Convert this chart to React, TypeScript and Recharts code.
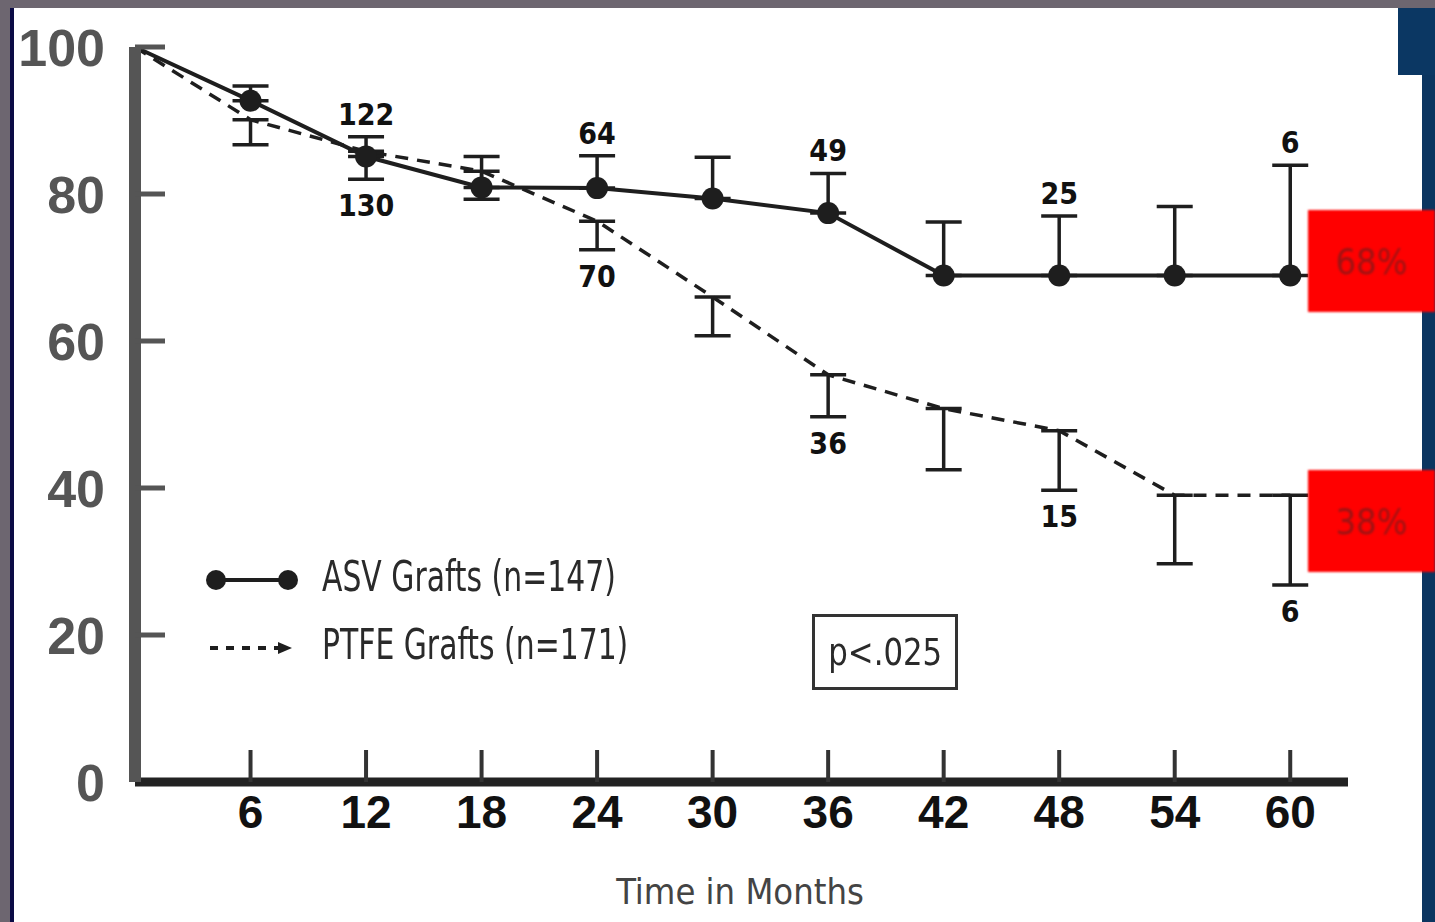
import React from "react";
import {
  ComposedChart,
  Line,
  XAxis,
  YAxis,
  ErrorBar,
  LabelList,
} from "recharts";

const months = [0, 6, 12, 18, 24, 30, 36, 42, 48, 54, 60];
const asvPatency = [100, 92.7, 85.1, 80.9, 80.8, 79.4, 77.4, 68.9, 68.9, 68.9, 68.9];
const asvUpper = [null, 94.7, 87.8, 85.1, 85.2, 85.0, 82.8, 76.2, 77.0, 78.3, 83.9];
const ptfePatency = [100, 90.1, 85.8, 83.1, 76.3, 66.0, 55.4, 50.8, 47.8, 39.0, 39.0];
const ptfeLower = [null, 86.7, 82.0, 79.3, 72.4, 60.7, 49.7, 42.5, 39.7, 29.7, 26.8];
const asvAtRisk = ["", "", "122", "", "64", "", "49", "", "25", "", "6"];
const ptfeAtRisk = ["", "", "130", "", "70", "", "36", "", "15", "", "6"];
const xTicks = [6, 12, 18, 24, 30, 36, 42, 48, 54, 60];
const yTicks = [0, 20, 40, 60, 80, 100];
const endLabels = ["68%", "38%"];

const data = months.map((m, i) => ({
  month: m,
  asv: asvPatency[i],
  asvErr: asvUpper[i] == null ? null : [0, +(asvUpper[i]! - asvPatency[i]).toFixed(1)],
  asvTop: asvUpper[i],
  asvN: asvAtRisk[i],
  ptfe: ptfePatency[i],
  ptfeErr: ptfeLower[i] == null ? null : [+(ptfePatency[i] - ptfeLower[i]!).toFixed(1), 0],
  ptfeBottom: ptfeLower[i],
  ptfeN: ptfeAtRisk[i],
}));

const INK = "#1e1e1e";
const NARROW = "'DejaVu Sans Condensed', 'DejaVu Sans', sans-serif";

const YTick = ({ x, y, payload }: any) => (
  <g>
    {payload.value !== 0 && (
      <line x1={x} x2={x + 30} y1={y} y2={y} stroke="#555" strokeWidth={5} />
    )}
    <text
      x={x - 30}
      y={y}
      dy="0.36em"
      textAnchor="end"
      fontSize={52}
      fontWeight="bold"
      fill="#555"
      fontFamily="'Liberation Sans', Arial, sans-serif"
    >
      {payload.value}
    </text>
  </g>
);

const XTick = ({ x, y, payload }: any) => (
  <g>
    <line x1={x} x2={x} y1={y - 32} y2={y} stroke="#333" strokeWidth={4} />
    <text
      x={x}
      y={y + 46}
      textAnchor="middle"
      fontSize={46}
      fontWeight="bold"
      fill="#111"
      fontFamily="'Liberation Sans', Arial, sans-serif"
    >
      {payload.value}
    </text>
  </g>
);

const AsvDot = (props: any) => {
  const { cx, cy, index } = props;
  if (index === 0) return <g key={`d${index}`} />;
  return <circle key={`d${index}`} cx={cx} cy={cy} r={11} fill={INK} />;
};

const countLabel = (below: boolean) => (p: any) => {
  if (!p.value) return null;
  return (
    <text
      key={`l${p.index}`}
      x={p.x}
      y={below ? p.y + 37 : p.y - 12}
      textAnchor="middle"
      fontSize={30}
      fontWeight="bold"
      fill="#111"
      fontFamily={NARROW}
    >
      {p.value}
    </text>
  );
};

const abs = (s: React.CSSProperties): React.CSSProperties => ({ position: "absolute", ...s });

const legendText: React.CSSProperties = {
  fontFamily: NARROW,
  fontSize: 42,
  color: "#2a2a2a",
  whiteSpace: "nowrap",
  transform: "scaleX(0.79)",
  transformOrigin: "left center",
};

export default function App() {
  return (
    <div style={abs({ left: 0, top: 0, width: 1435, height: 922, background: "#fff", overflow: "hidden" })}>
      <ComposedChart
        width={1435}
        height={922}
        data={data}
        margin={{ top: 47, right: 87, left: 35, bottom: 80 }}
      >
        <XAxis
          type="number"
          dataKey="month"
          domain={[0, 63]}
          ticks={xTicks}
          tick={<XTick />}
          tickLine={false}
          tickSize={0}
          tickMargin={0}
          height={60}
          axisLine={{ stroke: "#222", strokeWidth: 9 }}
        />
        <YAxis
          type="number"
          domain={[0, 100]}
          ticks={yTicks}
          tick={<YTick />}
          tickLine={false}
          tickSize={0}
          tickMargin={0}
          width={100}
          axisLine={{ stroke: "#555", strokeWidth: 12 }}
        />
        <Line
          dataKey="ptfe"
          stroke={INK}
          strokeWidth={3.5}
          strokeDasharray="13 9"
          dot={false}
          activeDot={false}
          isAnimationActive={false}
        >
          <ErrorBar dataKey="ptfeErr" width={18} strokeWidth={3.5} stroke={INK} direction="y" />
        </Line>
        <Line
          dataKey="asv"
          stroke={INK}
          strokeWidth={4}
          dot={<AsvDot />}
          activeDot={false}
          isAnimationActive={false}
        >
          <ErrorBar dataKey="asvErr" width={18} strokeWidth={3.5} stroke={INK} direction="y" />
        </Line>
        <Line
          dataKey="asvTop"
          stroke="none"
          dot={false}
          activeDot={false}
          isAnimationActive={false}
        >
          <LabelList dataKey="asvN" content={countLabel(false)} />
        </Line>
        <Line
          dataKey="ptfeBottom"
          stroke="none"
          dot={false}
          activeDot={false}
          isAnimationActive={false}
        >
          <LabelList dataKey="ptfeN" content={countLabel(true)} />
        </Line>
      </ComposedChart>

      {/* legend */}
      <svg style={abs({ left: 200, top: 555, width: 110, height: 120 })}>
        <line x1={16} x2={88} y1={25} y2={25} stroke={INK} strokeWidth={4} />
        <circle cx={16} cy={25} r={10} fill={INK} />
        <circle cx={88} cy={25} r={10} fill={INK} />
        <line x1={10} x2={82} y1={93} y2={93} stroke={INK} strokeWidth={4} strokeDasharray="8 8" />
        <polygon points="78,87 92,93 78,99" fill={INK} />
      </svg>
      <div style={abs({ left: 322, top: 552, ...legendText })}>ASV Grafts (n=147)</div>
      <div style={abs({ left: 322, top: 620, ...legendText })}>PTFE Grafts (n=171)</div>

      {/* p value box */}
      <div
        style={abs({
          left: 812,
          top: 614,
          width: 146,
          height: 76,
          boxSizing: "border-box",
          border: "3px solid #333",
          fontFamily: NARROW,
          fontSize: 38,
          color: "#2a2a2a",
          display: "flex",
          alignItems: "center",
          justifyContent: "center",
        })}
      >
        <span style={{ display: "inline-block", transform: "scaleX(0.9)" }}>p&lt;.025</span>
      </div>

      <div style={abs({ left: 540, width: 400, top: 871, textAlign: "center", fontFamily: NARROW, fontSize: 36, color: "#444" })}>
        Time in Months
      </div>

      {/* frame */}
      <div style={abs({ left: 0, top: 0, width: 1435, height: 8, background: "#6d6670" })} />
      <div style={abs({ left: 0, top: 0, width: 10, height: 922, background: "#6d6670" })} />
      <div style={abs({ left: 10, top: 8, width: 4, height: 914, background: "#0b0b45" })} />
      <div style={abs({ left: 1398, top: 8, width: 37, height: 67, background: "#0b3763" })} />
      <div style={abs({ left: 1422, top: 75, width: 13, height: 847, background: "#0b3560" })} />

      {endLabels.map((t, i) => (
        <div
          key={t}
          style={abs({
            left: 1308,
            top: i === 0 ? 210 : 470,
            width: 127,
            height: 102,
            background: "#ff0000",
            display: "flex",
            alignItems: "center",
            justifyContent: "center",
            fontFamily: NARROW,
            fontSize: 36,
            color: "#9a1414",
            filter: "blur(0.8px)",
          })}
        >
          {t}
        </div>
      ))}
    </div>
  );
}
